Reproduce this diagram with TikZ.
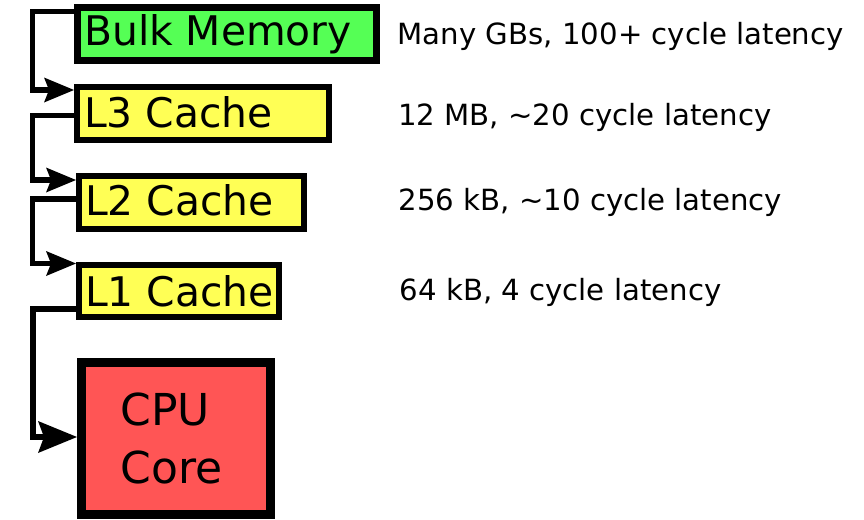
\documentclass[tikz,border=0pt]{standalone}
\usepackage{fontspec}
\setmainfont{DejaVu Sans}
\usetikzlibrary{calc}

\definecolor{memgreen}{RGB}{85,255,85}
\definecolor{cacheyellow}{RGB}{255,255,85}
\definecolor{corered}{RGB}{255,85,85}

\tikzset{
  level/.style={draw=black, rectangle, inner sep=0pt},
  bulkbox/.style={level, fill=memgreen, line width=7pt, outer sep=3.5pt},
  cachebox/.style={level, fill=cacheyellow, line width=6pt, outer sep=3pt},
  corebox/.style={level, fill=corered, line width=9pt, outer sep=4.5pt},
  boxlabel/.style={anchor=base west, inner sep=0pt, font=\fontsize{40.8}{48}\selectfont},
  corelabel/.style={anchor=base west, inner sep=0pt, font=\fontsize{44}{52}\selectfont},
  info/.style={anchor=base west, inner sep=0pt, font=\fontsize{29.2}{35}\selectfont},
  conn/.style={draw=black, line width=5.5pt, shorten >=24pt},
  connwide/.style={draw=black, line width=6.5pt, shorten >=32pt},
  % dart-shaped arrowheads, tip at the pic origin, pointing right
  dart/.pic={\fill[black] (0,0) -- (-30,-12.5) -- (-25,0) -- (-30,12.5) -- cycle;},
  widedart/.pic={\fill[black] (0,0) -- (-39,-16) -- (-33,0) -- (-39,16) -- cycle;}
}

\begin{document}
\begin{tikzpicture}[x=1pt, y=-1pt]
  \useasboundingbox (0,0) rectangle (864,519);

  % memory hierarchy levels
  \node[bulkbox, minimum width=299pt, minimum height=53pt] (bulk) at (227,34) {};
  \node[cachebox, minimum width=252pt, minimum height=53pt] (l3) at (203,113.5) {};
  \node[cachebox, minimum width=225pt, minimum height=53pt] (l2) at (191.5,202.5) {};
  \node[cachebox, minimum width=200pt, minimum height=52pt] (l1) at (179,291) {};
  \node[corebox, minimum width=189pt, minimum height=152pt] (cpu) at (176,438.5) {};

  % level names
  \node[boxlabel] (bulktext) at (84,45.3) {Bulk Memory};
  \node[boxlabel] (l3text) at (84,127.3) {L3 Cache};
  \node[boxlabel] (l2text) at (85,215) {L2 Cache};
  \node[boxlabel] (l1text) at (85,306.7) {L1 Cache};
  \node[corelabel] (cputext) at (120.5,425) {CPU};
  \node[corelabel] (coretext) at (120.5,483) {Core};

  % size and latency of each level
  \node[info] (bulkinfo) at (397.5,44.3) {Many GBs, 100+ cycle latency};
  \node[info] (l3info) at (398,125) {12 MB, \textasciitilde20 cycle latency};
  \node[info] (l2info) at (398.5,210.7) {256 kB, \textasciitilde10 cycle latency};
  \node[info] (l1info) at (399.5,300.3) {64 kB, 4 cycle latency};

  % entry points on the left side of each level
  \coordinate (l3in) at ($(l3.west)+(0,-23.5)$);
  \coordinate (l2in) at ($(l2.west)+(0,-22.5)$);
  \coordinate (l1in) at ($(l1.west)+(0,-27.5)$);
  \coordinate (cpuin) at ($(cpu.west)+(0,-1.5)$);

  % data flow down the hierarchy
  \draw[conn] ($(bulk.west)+(0,-22.3)$) -- ++(-41.5,0) |- (l3in);
  \draw[conn] ($(l3.west)+(0,2)$) -- ++(-41.5,0) |- (l2in);
  \draw[conn] ($(l2.west)+(0,-3.5)$) -- ++(-43.5,0) |- (l1in);
  \draw[connwide] ($(l1.west)+(0,18)$) -- ++(-43,0) |- (cpuin);

  \pic at (l3in) {dart};
  \pic at (l2in) {dart};
  \pic at (l1in) {dart};
  \pic at (cpuin) {widedart};
\end{tikzpicture}
\end{document}
